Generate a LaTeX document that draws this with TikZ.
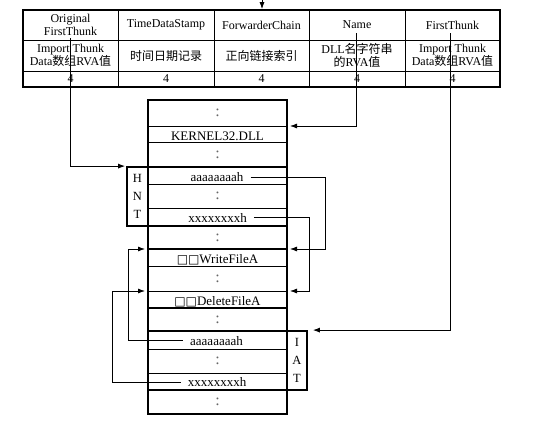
\documentclass[tikz,border=0pt]{standalone}
\usepackage{fontspec}
\setmainfont{Liberation Serif}
\newfontfamily\cjk{Noto Sans CJK SC}
\newfontfamily\symfont{DejaVu Sans}
\usetikzlibrary{arrows.meta}

\begin{document}
\begin{tikzpicture}[x=1pt,y=-1pt,
  thinline/.style={line width=0.8pt},
  thickline/.style={line width=1.8pt},
  link/.style={line width=0.8pt,-{Latex[length=7pt,width=5pt]},shorten >=3pt},
  cell/.style={font=\fontsize{12}{12.5}\selectfont,align=center,inner sep=0pt},
  gap/.style={font=\fontsize{16}{16}\selectfont,text=black!60,inner sep=0pt},
  entry/.style={font=\fontsize{13}{13}\selectfont,inner sep=0pt,anchor=base},
  sidebox/.style={draw,thickline,inner sep=0pt,align=center,
    font=\fontsize{12.5}{18}\selectfont},
]
\useasboundingbox (0,0) rectangle (536,423);

% ---------- import descriptor table ----------
\node[draw,thickline,minimum width=477pt,minimum height=77pt,inner sep=0pt]
  (tbl) at (261.5,48.5) {};
\draw[thinline] (23,40) -- (500,40) (23,71) -- (500,71);
\foreach \x in {118,214,309,405} \draw[thinline] (\x,10) -- (\x,87);

\node[cell] (h1) at (70.5,25) {Original\\FirstThunk};
\node[cell] (h2) at (166,25) {TimeDataStamp};
\node[cell] (h3) at (261.5,25) {ForwarderChain};
\node[cell] (h4) at (357,25) {Name};
\node[cell] (h5) at (452.5,25) {FirstThunk};

\node[cell] (d1) at (70.5,55.5) {Import Thunk\\Data{\cjk 数组}RVA{\cjk 值}};
\node[cell] (d2) at (166,55.5) {\cjk 时间日期记录};
\node[cell] (d3) at (261.5,55.5) {\cjk 正向链接索引};
\node[cell] (d4) at (357,55.5) {DLL{\cjk 名字符串}\\{\cjk 的}RVA{\cjk 值}};
\node[cell] (d5) at (452.5,55.5) {Import Thunk\\Data{\cjk 数组}RVA{\cjk 值}};

\foreach \n/\x in {1/70.5,2/166,3/261.5,4/357,5/452.5}
  \node[cell] (s\n) at (\x,79) {4};

% incoming pointer to the table
\coordinate (src) at (262,0);
\draw[link,shorten >=0pt] (src) -- (src |- tbl.north);

% ---------- memory image ----------
\node[draw,thickline,minimum width=139pt,minimum height=314pt,inner sep=0pt]
  (mem) at (217.5,257) {};
\foreach \y in {126,142,184,208,266,291,349,373}
  \draw[thinline] (148,\y) -- (287,\y);
\foreach \y in {167,226,249,308,331,390}
  \draw[thickline] (148,\y) -- (287,\y);

\node[sidebox,minimum width=21pt,minimum height=59pt] (hnt) at (137.5,196.5) {H\\N\\T};
\node[sidebox,minimum width=20pt,minimum height=59pt] (iat) at (297,360.5) {I\\A\\T};

\foreach \y [count=\i] in {113,154.5,196,237.5,278.5,319.5,361,402}
  \node[gap] (g\i) at (217.5,\y) {:};

\node[entry] (kern) at (217.5,140) {KERNEL32.DLL};
\node[entry] (hA) at (217,181.5) {aaaaaaaah};
\node[entry] (hX) at (217.5,222) {xxxxxxxxh};
\node[entry] (wf) at (217.5,263) {{\symfont\fontsize{12}{12}\selectfont □□}WriteFileA};
\node[entry] (df) at (217.5,305) {{\symfont\fontsize{12}{12}\selectfont □□}DeleteFileA};
\node[entry] (iA) at (216.5,345) {aaaaaaaah};
\node[entry] (iX) at (217,386.5) {xxxxxxxxh};

% ---------- connectors ----------
\coordinate (oft) at (70,38);
\coordinate (nm) at (356,33);
\coordinate (ft) at (450,33);
\coordinate (kernR) at (287,126);
\coordinate (wfR) at (287,249);
\coordinate (dfR) at (287,291);
\coordinate (wfL) at (148,249);
\coordinate (dfL) at (148,291);
\coordinate (jog1) at (325,249);
\coordinate (jog2) at (309,291);
\coordinate (jog3) at (128,249);
\coordinate (jog4) at (112,291);

\draw[link,shorten >=1pt] (oft) |- (hnt.north west);
\draw[link] (nm) |- (kernR);
\draw[link,shorten >=5pt] (ft) |- (iat.north east);
\draw[link,shorten <=7pt] (hA.east) -| (jog1) -- (wfR);
\draw[link,shorten <=7pt] (hX.east) -| (jog2) -- (dfR);
\draw[link,shorten <=7pt] (iA.west) -| (jog3) -- (wfL);
\draw[link,shorten <=7pt] (iX.west) -| (jog4) -- (dfL);
\end{tikzpicture}
\end{document}
